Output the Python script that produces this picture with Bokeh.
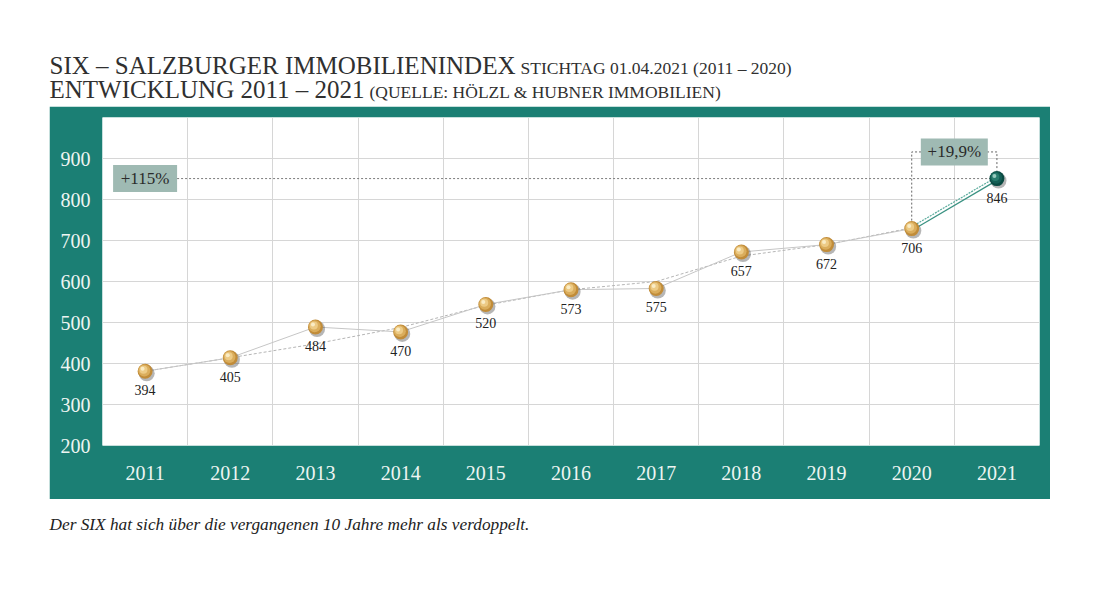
from bokeh.plotting import figure
from bokeh.models import Range1d, FixedTicker, Spacer
from bokeh.layouts import column, row
from bokeh.embed import file_html
from bokeh.resources import INLINE
from bokeh.core.properties import value

# ---------------- data ----------------
years = [2011, 2012, 2013, 2014, 2015, 2016, 2017, 2018, 2019, 2020, 2021]
dot_values = [381, 414, 489, 477, 544, 580, 583, 672, 690, 729, 851]
label_values = ["394", "405", "484", "470", "520", "573", "575", "657", "672", "706", "846"]
trend_values = [381, 414, 448, 488, 542, 580, 600, 662, 690, 731]
y_ticks = [200, 300, 400, 500, 600, 700, 800, 900]
growth_total = "+115%"
growth_last = "+19,9%"
bracket_level = 916

title_main_1 = "SIX \u2013 SALZBURGER IMMOBILIENINDEX"
title_small_1 = "STICHTAG 01.04.2021 (2011 \u2013 2020)"
title_main_2 = "ENTWICKLUNG 2011 \u2013 2021"
title_small_2 = "(QUELLE: H\u00d6LZL & HUBNER IMMOBILIEN)"
caption = "Der SIX hat sich \u00fcber die vergangenen 10 Jahre mehr als verdoppelt."

# ---------------- style ----------------
FONT = "Liberation Serif"
TEAL = "#1b7f74"
BOX = "#9fbab3"
W, H = 1001, 393
ML, MR, MT, MB = 53, 11, 11, 54
X0, X1 = 2010.5, 2021.5
Y0, Y1 = 200, 1000
PXX = (W - ML - MR) / (X1 - X0)
PXY = (H - MT - MB) / (Y1 - Y0)
LEFT = 49
TH = 106


def shift(xs, ys, dx, dy):
    return [x + dx / PXX for x in xs], [y - dy / PXY for y in ys]


p = figure(width=W, height=H, x_range=Range1d(X0, X1), y_range=Range1d(Y0, Y1),
           output_backend="svg", toolbar_location=None,
           min_border_left=ML, min_border_right=MR, min_border_top=MT, min_border_bottom=MB,
           border_fill_color=TEAL, background_fill_color="white", outline_line_color=None)

p.xaxis.ticker = FixedTicker(ticks=years)
p.xaxis.major_label_overrides = {y: str(y) for y in years}
p.yaxis.ticker = FixedTicker(ticks=y_ticks)
for ax in (p.xaxis[0], p.yaxis[0]):
    ax.axis_line_color = None
    ax.major_tick_line_color = None
    ax.minor_tick_line_color = None
    ax.major_label_text_font = FONT
    ax.major_label_text_font_size = "20px"
    ax.major_label_text_color = "#eef5f2"
p.yaxis.major_label_standoff = 6
p.xaxis.major_label_standoff = 14

p.xgrid.ticker = FixedTicker(ticks=[y + 0.5 for y in years[:-1]])
p.ygrid.ticker = FixedTicker(ticks=y_ticks[1:])
p.grid.grid_line_color = "#d6d6d6"
p.grid.grid_line_width = 1

# reference line for +115%
p.line([years[0], years[-1]], [dot_values[-1], dot_values[-1]],
       line_color="#7a7a7a", line_dash="2 2", line_width=1)
# bracket for +19,9%
p.line([years[-2], years[-2], years[-1], years[-1]],
       [dot_values[-2], bracket_level, bracket_level, dot_values[-1] + 8 / PXY],
       line_color="#666666", line_dash="2 2", line_width=1)

# trend and connecting lines
p.line(years[:-1], trend_values, line_color="#b5b5b5", line_dash="3 2", line_width=1)
p.line(years[:-1], dot_values[:-1], line_color="#c6c6c6", line_width=1)
last_x = years[-2:]
last_y = dot_values[-2:]
p.line(last_x, [v + 1.8 / PXY for v in last_y], line_color="#5aab9c", line_dash="2 1", line_width=1.2)
p.line(last_x, [v - 1.8 / PXY for v in last_y], line_color="#3a9282", line_width=1.2)


def sphere(xs, ys, colors):
    sx, sy = shift(xs, ys, 1.6, 2.0)
    p.scatter(sx, sy, size=16, fill_color="#2e2e2e", fill_alpha=0.35, line_color=None)
    p.scatter(xs, ys, size=15, fill_color=colors[0], line_color=None)
    a, b = shift(xs, ys, -0.8, -0.8)
    p.scatter(a, b, size=12, fill_color=colors[1], line_color=None)
    a, b = shift(xs, ys, -1.6, -1.6)
    p.scatter(a, b, size=8, fill_color=colors[2], line_color=None)
    a, b = shift(xs, ys, -2.5, -2.5)
    p.scatter(a, b, size=4, fill_color=colors[3], fill_alpha=0.9, line_color=None)


sphere(years[:-1], dot_values[:-1], ["#c18c39", "#daad5c", "#edcb86", "#fbf0cc"])
sphere(years[-1:], dot_values[-1:], ["#0a4a42", "#145f55", "#2a7d6f", "#a4d4c8"])

p.text(x=years, y=dot_values, text=label_values, text_align="center", text_baseline="middle",
       y_offset=19, text_font=value(FONT), text_font_size="14px", text_color="#222222")

# annotation boxes
p.rect(x=[years[0]], y=[dot_values[-1]], width=64, height=27, width_units="screen",
       height_units="screen", fill_color=BOX, line_color=None)
p.text(x=[years[0]], y=[dot_values[-1]], text=[growth_total], text_align="center",
       text_baseline="middle", text_font=value(FONT), text_font_size="17px", text_color="#2a2a2a")
bx = (years[-2] + years[-1]) / 2
p.rect(x=[bx], y=[bracket_level], width=67, height=27, width_units="screen",
       height_units="screen", fill_color=BOX, line_color=None)
p.text(x=[bx], y=[bracket_level], text=[growth_last], text_align="center",
       text_baseline="middle", text_font=value(FONT), text_font_size="17px", text_color="#2a2a2a")

# ---------------- title ----------------
TW = LEFT + W
tf = figure(width=TW, height=TH, x_range=Range1d(0, TW), y_range=Range1d(TH, 0),
            x_axis_type=None, y_axis_type=None, min_border=0, output_backend="svg",
            toolbar_location=None, outline_line_color=None)
tf.grid.visible = False
tf.text(x=[49, 49], y=[65, 89], text=[title_main_1, title_main_2], text_baseline="middle",
        text_font=value(FONT), text_font_size="25px", text_color="#303030")
tf.text(x=[520, 369], y=[67, 91], text=[title_small_1, title_small_2], text_baseline="middle",
        text_font=value(FONT), text_font_size="17.5px", text_color="#303030")

# ---------------- caption ----------------
cf = figure(width=TW, height=60, x_range=Range1d(0, TW), y_range=Range1d(60, 0),
            x_axis_type=None, y_axis_type=None, min_border=0, output_backend="svg",
            toolbar_location=None, outline_line_color=None)
cf.grid.visible = False
cf.text(x=[49], y=[25], text=[caption], text_baseline="middle", text_font=value(FONT),
        text_font_style="italic", text_font_size="17.3px", text_color="#222222")

layout = column(tf, row(Spacer(width=LEFT, height=H), p), cf)
open("out.html", "w").write(file_html(layout, INLINE))
